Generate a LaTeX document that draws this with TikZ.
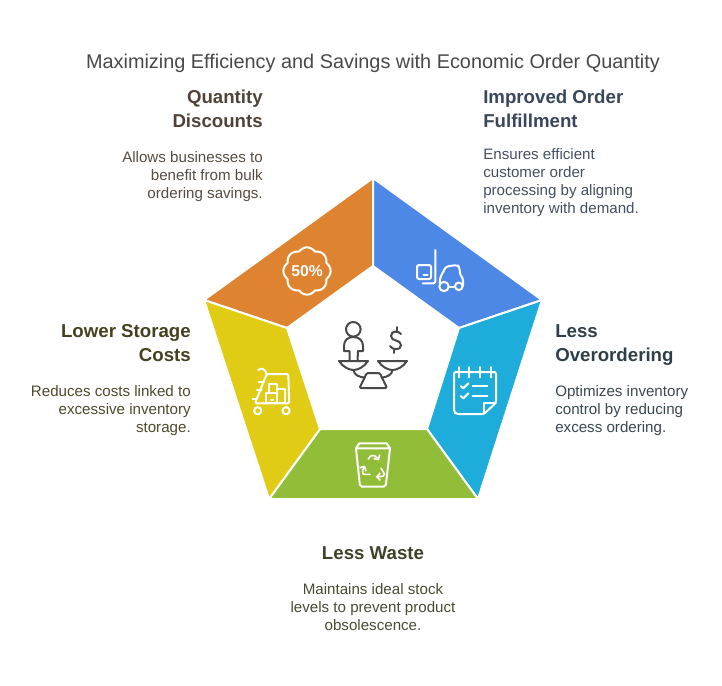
\documentclass[tikz,border=0pt]{standalone}
\usepackage{fontspec}
\setmainfont{Liberation Sans}
\usepackage{tikz}
\usetikzlibrary{arrows.meta}
\definecolor{segorange}{HTML}{DE8431}
\definecolor{segblue}{HTML}{4E88E7}
\definecolor{segcyan}{HTML}{1EACDB}
\definecolor{seggreen}{HTML}{92BD39}
\definecolor{segyellow}{HTML}{E0CB15}
\definecolor{icondark}{HTML}{484848}
\definecolor{txtorange}{HTML}{4F4338}
\definecolor{txtblue}{HTML}{3A4659}
\definecolor{txtcyan}{HTML}{2F3E47}
\definecolor{txtgreen}{HTML}{3F4229}
\definecolor{txtyellow}{HTML}{45401F}
\begin{document}
\begin{tikzpicture}[x=0.75pt,y=-0.75pt]
\tikzset{segment/.style = {draw=white,line width=1.5pt,line join=miter}}
\tikzset{head/.style = {inner sep=0pt,font=\fontsize{14}{18}\selectfont\bfseries}}
\tikzset{body/.style = {inner sep=0pt,font=\fontsize{11.35}{13.5}\selectfont}}
\tikzset{icon/.style = {draw=white,line width=1.5pt,line cap=round,line join=round}}
\tikzset{cycle arrow/.style = {icon,line width=1.2pt,-{Straight Barb[length=2.6pt,width=5.5pt]}}}
\tikzset{scales/.style = {draw=icondark,line width=1.5pt,line cap=round,line join=round}}
\useasboundingbox (0,0) rectangle (722,686);
% title
\node[inner sep=0pt,text=icondark,font=\fontsize{14.9}{18}\selectfont] (title) at (373,63) {Maximizing Efficiency and Savings with Economic Order Quantity};
% segments
\fill[segorange,segment] (373,178) -- (373,266) -- (287,328) -- (204,300) -- cycle;
\fill[segblue,segment] (373,178) -- (542,300) -- (459,328) -- (373,266) -- cycle;
\fill[segcyan,segment] (542,300) -- (478,499) -- (427,429) -- (459,328) -- cycle;
\fill[seggreen,segment] (478,499) -- (269,499) -- (320,429) -- (427,429) -- cycle;
\fill[segyellow,segment] (269,499) -- (204,300) -- (287,328) -- (320,429) -- cycle;
% labels
\node[head,text=txtorange,anchor=north east,align=right] (qhead) at (263,90) {Quantity\\Discounts};
\node[body,text=txtorange!95,anchor=north east,align=right] (qbody) at (263,151.5) {Allows businesses to\\benefit from bulk\\ordering savings.};
\node[head,text=txtblue,anchor=north west,align=left] (ohead) at (483,90) {Improved Order\\Fulfillment};
\node[body,text=txtblue!95,anchor=north west,align=left] (obody) at (483,148.5) {Ensures efficient\\customer order\\processing by aligning\\inventory with demand.};
\node[head,text=txtcyan,anchor=north west,align=left] (lhead) at (555,324) {Less\\Overordering};
\node[body,text=txtcyan!95,anchor=north west,align=left] (lbody) at (555,385) {Optimizes inventory\\control by reducing\\excess ordering.};
\node[head,text=txtgreen,anchor=north] (whead) at (373,546) {Less Waste};
\node[body,text=txtgreen!95,anchor=north,align=center] (wbody) at (373,583) {Maintains ideal stock\\levels to prevent product\\obsolescence.};
\node[head,text=txtyellow,anchor=north east,align=right] (shead) at (191,324) {Lower Storage\\Costs};
\node[body,text=txtyellow!95,anchor=north east,align=right] (sbody) at (191,385) {Reduces costs linked to\\excessive inventory\\storage.};
% discount icon
\draw[icon,shift={(307,271)}] plot[domain=0:360,samples=145] (\x:{21+2.6*abs(cos(4*\x))}) -- cycle;
\node[inner sep=0pt,text=white,font=\fontsize{11.8}{12}\selectfont\bfseries] (pct) at (307,271) {50\%};
% forklift icon
\draw[icon,rounded corners=1.5] (417,265) rectangle (431,279);
\draw[icon] (423.5,274.7) -- (427.5,274.7);
\draw[icon,rounded corners=1.5] (435.3,250) -- (435.3,283.3) -- (422.7,283.3);
\draw[icon,rounded corners=2] (439.7,283) -- (440,278) -- (446,266.5) -- (457,265) -- (459.5,267) -- (460,275) -- (463,278) -- (463,285);
\draw[icon] (444,286.5) circle (4.7);
\draw[icon] (458.8,286.3) circle (3.8);
\draw[icon] (448.7,286.5) -- (455,286.5);
% clipboard icon
\draw[icon,rounded corners=1.5] (484,414) -- (456,414) -- (454,412) -- (454,372) -- (496,372) -- (496,402.7) -- cycle;
\draw[icon] (484,414) -- (484,402.7) -- (496,402.7);
\foreach \tx in {459.3,469,480,490.7} {
  \draw[icon] (\tx,367) -- (\tx,377.3);
}
\foreach \ty in {0,10} {
  \draw[icon] (460.7,386+\ty) -- (463.3,388.3+\ty) -- (468.3,383.3+\ty);
  \draw[icon] (472.7,386+\ty) -- (487.3,386+\ty);
}
% bin icon
\draw[icon] (356,448.3) -- (359.3,443.3) -- (386.7,443.3) -- (390,448.3) -- cycle;
\draw[icon,rounded corners=1.5] (356,448.3) -- (360,486.7) -- (385.7,486.7) -- (390,448.3);
\draw[cycle arrow] (368.3,459) .. controls (370,454.5) and (375,454) .. (379,460.5);
\draw[cycle arrow] (370,474.3) -- (364.5,474.3) .. controls (362,474) and (362,471) .. (365,465.5);
\draw[cycle arrow] (381,468.3) -- (384,473) .. controls (385,476) and (383,476.7) .. (375.7,476.7);
% cart icon
\draw[icon,rounded corners=1] (255,403.3) -- (266.7,374) -- (288.3,374) -- (289.3,403.3) -- cycle;
\draw[icon] (258.3,370) .. controls (261,367.5) and (265,368.5) .. (266.7,374);
\draw[icon] (258.5,381.7) -- (263.5,381.7);
\draw[icon] (257,390) -- (261.5,390);
\draw[icon] (252.7,399.3) -- (256.5,399.3);
\draw[icon] (265.7,392.7) rectangle (277.3,403.3);
\draw[icon] (269.3,392.7) -- (269.3,384) -- (277.3,384) -- (277.3,392.7);
\draw[icon] (277.3,389.3) -- (285,389.3) -- (285,403.3) -- (277.3,403.3);
\draw[icon] (271,400) -- (273,400);
\draw[icon] (257.7,410.7) circle (3.6);
\draw[icon] (286,410.7) circle (3.6);
% scales icon
\draw[scales] (353.3,329.3) circle (7.3);
\draw[scales] (349.5,361) -- (349.5,351) -- (344,351) -- (344,346) .. controls (344,340) and (348,337) .. (353.3,337) .. controls (358.5,337) and (363,340) .. (363,346) -- (363,351) -- (358,351) -- (357.5,361);
\draw[scales] (339,361) -- (368,361) .. controls (364,367) and (358,370) .. (353.5,370) .. controls (349,370) and (343,367) .. (339,361) -- cycle;
\draw[scales] (378,361) -- (407,361) .. controls (403,367) and (397,370) .. (392.5,370) .. controls (388,370) and (382,367) .. (378,361) -- cycle;
\draw[scales] (353.5,370) .. controls (354,375) and (359,377) .. (365,377.7);
\draw[scales] (392.5,370) .. controls (392,375) and (387,377) .. (381.5,377.7);
\draw[scales,rounded corners=1] (359.5,388) -- (366.8,373) -- (379.8,373) -- (387,388) -- cycle;
\draw[scales] (401,334) .. controls (399,331) and (391,330) .. (391,336) .. controls (391,342) and (401,339) .. (401,345) .. controls (401,351) and (392,350) .. (390,346);
\draw[scales] (396.7,327) -- (396.7,330.5);
\draw[scales] (394,350) -- (394,353);
\end{tikzpicture}
\end{document}
